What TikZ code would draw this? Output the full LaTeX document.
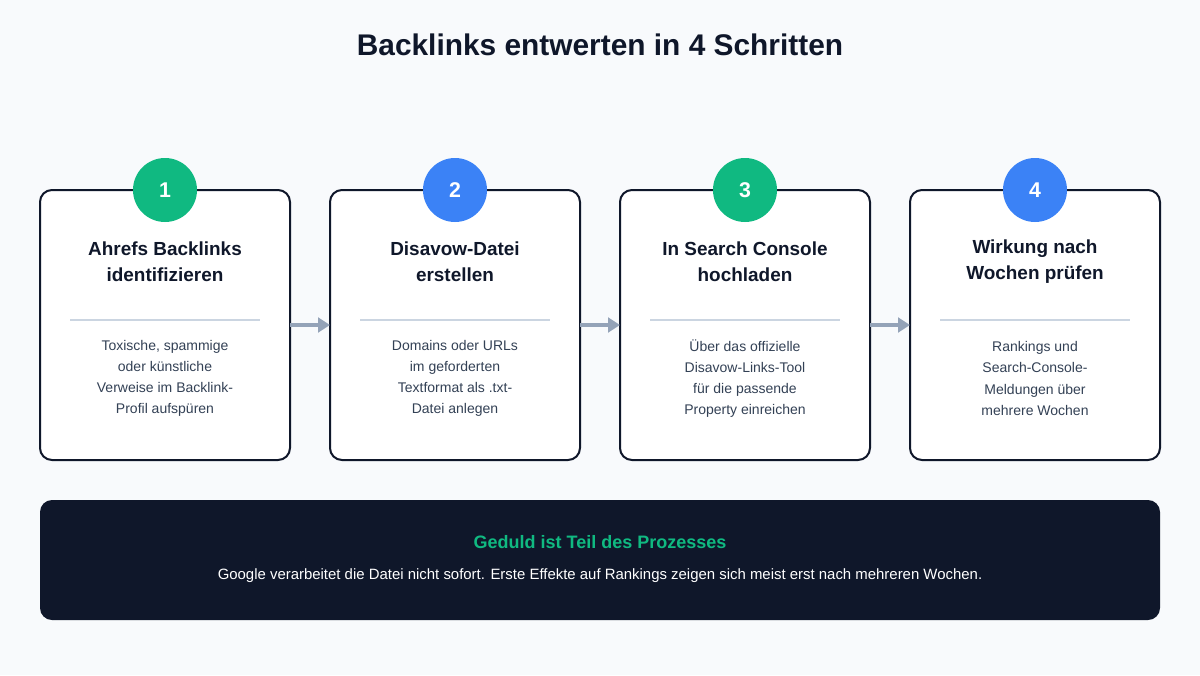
\documentclass[tikz,border=0pt]{standalone}
\usepackage{fontspec}
\setmainfont{Liberation Sans}
\usetikzlibrary{arrows.meta}
\definecolor{bg}{HTML}{F8FAFC}
\definecolor{ink}{HTML}{0F172A}
\definecolor{grn}{HTML}{10B981}
\definecolor{blu}{HTML}{3B82F6}
\definecolor{sep}{HTML}{CBD5E1}
\definecolor{body}{HTML}{334155}
\definecolor{arr}{HTML}{94A3B8}
\begin{document}
\begin{tikzpicture}[x=0.75pt,y=-0.75pt,
 card/.style={draw=ink,line width=1.5pt,fill=white,rounded corners=9pt},
 num/.style={circle,minimum size=48pt,inner sep=0pt,text=white,font=\bfseries\fontsize{16}{18}\selectfont},
 ttl/.style={font=\bfseries\fontsize{14.2}{19.5}\selectfont,text=ink,align=center},
 bod/.style={font=\fontsize{10.5}{15.8}\selectfont,text=body,align=center},
 flow/.style={draw=arr,line width=3pt,-{Triangle[length=9pt,width=11pt]}}]
\fill[bg] (0,0) rectangle (1200,675);
\node[font=\bfseries\fontsize{22.4}{26}\selectfont,text=ink] (title) at (600,45) {Backlinks entwerten in 4 Schritten};
\foreach \i/\x/\c/\ta/\tb/\ba/\bb/\bc/\bd in {
 1/40/grn/Ahrefs Backlinks/identifizieren/{Toxische, spammige}/{oder künstliche}/{Verweise im Backlink-}/{Profil aufspüren},
 2/330/blu/Disavow-Datei/erstellen/{Domains oder URLs}/{im geforderten}/{Textformat als .txt-}/{Datei anlegen},
 3/620/grn/In Search Console/hochladen/{Über das offizielle}/{Disavow-Links-Tool}/{für die passende}/{Property einreichen},
 4/910/blu/Wirkung nach/Wochen prüfen/{Rankings und}/{Search-Console-}/{Meldungen über}/{mehrere Wochen}}{
 \draw[card] (\x,190) rectangle ++(250,270);
 \coordinate (L\i) at (\x,325);
 \coordinate (R\i) at ({\x+250},325);
 \node[num,fill=\c] (n\i) at ({\x+125},190) {\i};
 \node[ttl] (t\i) at ({\x+125},262) {\ta\\\tb};
 \draw[sep,line width=0.8pt] ({\x+30},320) -- ({\x+220},320);
 \node[bod] (b\i) at ({\x+125},378.5) {\ba\\\bb\\\bc\\\bd};
}
\draw[flow] (R1) -- (L2);
\draw[flow] (R2) -- (L3);
\draw[flow] (R3) -- (L4);
\fill[ink,rounded corners=9pt] (40,500) rectangle (1160,620);
\node[font=\bfseries\fontsize{13.5}{16}\selectfont,text=grn] (h) at (600,542) {Geduld ist Teil des Prozesses};
\node[font=\fontsize{11.2}{13}\selectfont,text=white] (note) at (600,576) {Google verarbeitet die Datei nicht sofort. Erste Effekte auf Rankings zeigen sich meist erst nach mehreren Wochen.};
\end{tikzpicture}
\end{document}
